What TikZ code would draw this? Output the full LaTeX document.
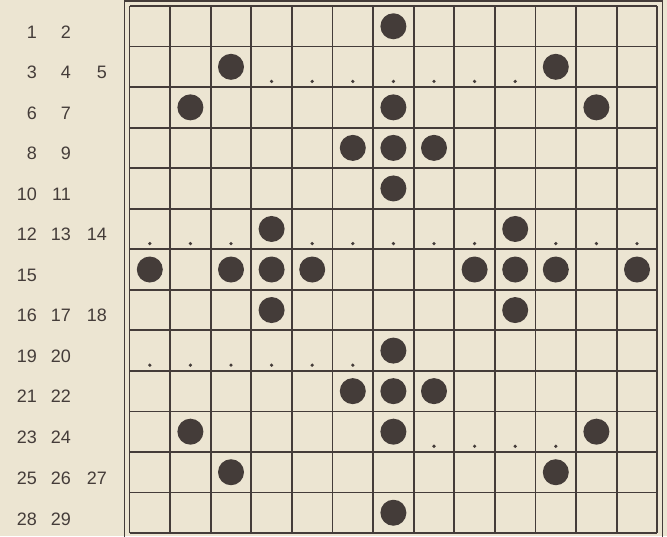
\documentclass[tikz,border=0pt]{standalone}
\usepackage{fontspec}
\setmainfont{Liberation Sans}
\usetikzlibrary{positioning}
\definecolor{paper}{HTML}{ECE5D2}
\definecolor{ink}{HTML}{443C39}

\begin{document}
\begin{tikzpicture}[x=1pt,y=-1pt,
  stone/.style={fill=ink,draw=none},
  pip/.style={fill=ink,draw=none},
  rowlabel/.style={anchor=base east,inner sep=0pt,text=ink,font=\fontsize{18}{18}\selectfont}]
  \fill[paper] (0,0) rectangle (667,536);
  \useasboundingbox (0,0) rectangle (667,536);
  % double frame
  \draw[ink,line width=1.8pt] (124.5,1) rectangle (662.5,539);
  % board: 13 x 13 cells
  \begin{scope}[shift={(129.5pt,-6pt)},x=40.6pt,y=-40.54pt]
    \foreach \i in {0,...,13} {
      \draw[ink,line width=1.8pt] (\i,0) -- (\i,13);
      \draw[ink,line width=1.8pt] (0,\i) -- (13,\i);
    }
    % stones (column/row)
    \foreach \c/\r in {6/0, 2/1,10/1, 1/2,6/2,11/2, 5/3,6/3,7/3, 6/4, 3/5,9/5,
      0/6,2/6,3/6,4/6,8/6,9/6,10/6,12/6, 3/7,9/7, 6/8, 5/9,6/9,7/9,
      1/10,6/10,11/10, 2/11,10/11, 6/12}
      \fill[stone] (\c+0.5,\r+0.5) circle[radius=13pt];
    % small marks just above a line
    \foreach \c/\r in {3/1,4/1,5/1,6/1,7/1,8/1,9/1,
      0/5,1/5,2/5,4/5,5/5,6/5,7/5,8/5,10/5,11/5,12/5,
      0/8,1/8,2/8,3/8,4/8,5/8, 7/10,8/10,9/10,10/10}
      \fill[pip] (\c+0.5,\r+0.86) circle[radius=1.8pt];
  \end{scope}
  % row numbers
  \foreach \y/\a/\b/\d in {32/1/2/, 72/3/4/5, 113/6/7/, 153/8/9/, 194/10/11/,
    234/12/13/14, 275/15//, 315/16/17/18, 356/19/20/, 396/21/22/,
    437/23/24/, 478/25/26/27, 519/28/29/} {
    \node[rowlabel] (n\a) at (37,\y+6.5) {\a};
    \node[rowlabel] (m\a) at (71,\y+6.5) {\b};
    \node[rowlabel] (k\a) at (107,\y+6.5) {\d};
  }
\end{tikzpicture}
\end{document}
